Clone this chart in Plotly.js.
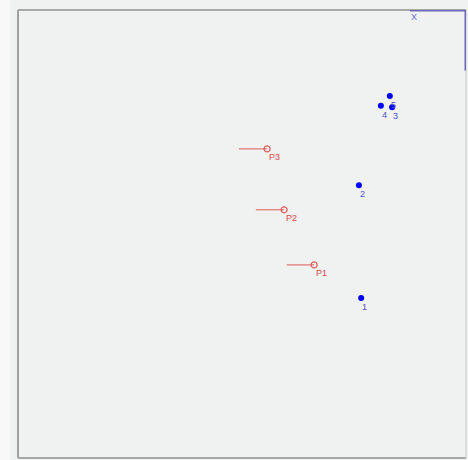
<!DOCTYPE html>
<html>
<head>
<meta charset="utf-8">
<script src="https://cdn.plot.ly/plotly-3.0.1.min.js"></script>
<style>html,body{margin:0;padding:0;background:#f0f1f1;}#chart{width:468px;height:460px;}</style>
</head>
<body>
<div id="chart"></div>
<script>
// Blue points
const pointLabels = ["1", "2", "3", "4", "5"];
const pointX = [76.6, 76.1, 83.5, 81.0, 83.0];
const pointY = [35.7, 60.9, 78.3, 78.6, 80.8];

// Red probes (head position and tail start)
const probeLabels = ["P1", "P2", "P3"];
const probeX = [66.1, 59.4, 55.6];
const probeY = [43.1, 55.4, 69.0];
const probeTailX = [60.0, 53.1, 49.3];

// Corner marker
const cornerX = [87.5, 100, 100];
const cornerY = [100, 100, 86.5];
const cornerLabel = "X";

const tailX = [], tailY = [];
for (let i = 0; i < probeX.length; i++) {
  tailX.push(probeTailX[i], probeX[i], null);
  tailY.push(probeY[i], probeY[i], null);
}

const traces = [
  {
    x: tailX, y: tailY, mode: 'lines', type: 'scatter',
    line: {color: '#e05a5a', width: 1}, hoverinfo: 'skip', showlegend: false
  },
  {
    x: probeX, y: probeY, mode: 'markers', type: 'scatter',
    marker: {symbol: 'circle-open', size: 6, color: '#e05a5a', line: {width: 1.2}},
    showlegend: false
  },
  {
    x: pointX, y: pointY, mode: 'markers', type: 'scatter',
    marker: {symbol: 'circle', size: 6, color: '#0000ff'},
    showlegend: false
  }
];

const annotations = [];
pointLabels.forEach((t, i) => annotations.push({
  x: pointX[i], y: pointY[i], xref: 'x', yref: 'y', text: t, showarrow: false,
  xanchor: 'left', yanchor: 'top', xshift: 0, yshift: -3, borderpad: 0,
  font: {family: 'Liberation Sans', size: 9, color: '#5050cc'}
}));
probeLabels.forEach((t, i) => annotations.push({
  x: probeX[i], y: probeY[i], xref: 'x', yref: 'y', text: t, showarrow: false,
  xanchor: 'left', yanchor: 'top', xshift: 1, yshift: -2, borderpad: 0,
  font: {family: 'Liberation Sans', size: 9, color: '#d84a4a'}
}));
annotations.push({
  x: cornerX[0], y: cornerY[0], xref: 'x', yref: 'y', text: cornerLabel, showarrow: false,
  xanchor: 'left', yanchor: 'top', xshift: 0, yshift: -1, borderpad: 0,
  font: {family: 'Liberation Sans', size: 9, color: '#6a6ad8'}
});

const shapes = [
  {type: 'rect', xref: 'paper', yref: 'paper', x0: -18/448, x1: -8/448, y0: -2/448, y1: 1 + 10/448, fillcolor: '#f8f8f8', line: {width: 0}, layer: 'below'},
  {type: 'line', xref: 'paper', yref: 'paper', x0: 0, x1: 0, y0: 0, y1: 1, line: {color: '#a0a0a0', width: 2}},
  {type: 'line', xref: 'paper', yref: 'paper', x0: 0, x1: 1, y0: 1, y1: 1, line: {color: '#a8a8a8', width: 2}},
  {type: 'line', xref: 'paper', yref: 'paper', x0: 0, x1: 1, y0: 0, y1: 0, line: {color: '#a8a8a8', width: 2}},
  {type: 'line', xref: 'paper', yref: 'paper', x0: 1, x1: 1, y0: 0, y1: 1, line: {color: '#c8c8c8', width: 1}}
];
for (let i = 0; i < cornerX.length - 1; i++) {
  shapes.push({type: 'line', xref: 'x', yref: 'y', x0: cornerX[i], x1: cornerX[i+1], y0: cornerY[i], y1: cornerY[i+1], line: {color: '#6a6ab8', width: 3}});
}

const layout = {
  width: 468, height: 460,
  margin: {l: 18, r: 2, t: 10, b: 2, pad: 0},
  paper_bgcolor: '#f0f1f1',
  plot_bgcolor: '#f0f1f1',
  xaxis: {range: [0, 100], showgrid: false, zeroline: false, showticklabels: false, ticks: '', showline: false, fixedrange: true},
  yaxis: {range: [0, 100], showgrid: false, zeroline: false, showticklabels: false, ticks: '', showline: false, fixedrange: true},
  shapes: shapes,
  annotations: annotations
};

Plotly.newPlot('chart', traces, layout, {displayModeBar: false, staticPlot: true});
</script>
</body>
</html>
